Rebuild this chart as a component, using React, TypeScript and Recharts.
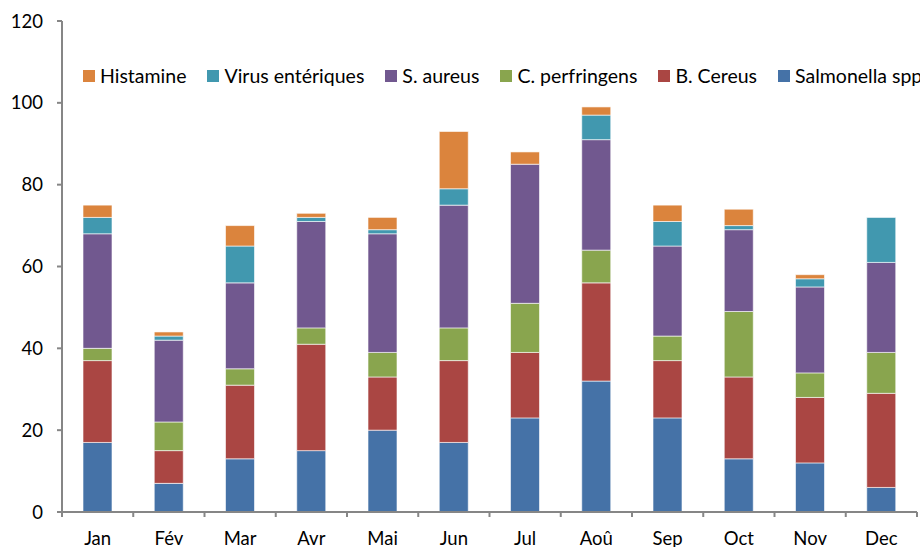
import { BarChart, Bar, XAxis, YAxis, Legend } from 'recharts'

const months = ['Jan', 'Fév', 'Mar', 'Avr', 'Mai', 'Jun', 'Jul', 'Aoû', 'Sep', 'Oct', 'Nov', 'Dec']

const salmonella = [17, 7, 13, 15, 20, 17, 23, 32, 23, 13, 12, 6]
const bCereus = [20, 8, 18, 26, 13, 20, 16, 24, 14, 20, 16, 23]
const cPerfringens = [3, 7, 4, 4, 6, 8, 12, 8, 6, 16, 6, 10]
const sAureus = [28, 20, 21, 26, 29, 30, 34, 27, 22, 20, 21, 22]
const virus = [4, 1, 9, 1, 1, 4, 0, 6, 6, 1, 2, 11]
const histamine = [3, 1, 5, 1, 3, 14, 3, 2, 4, 4, 1, 0]

const yTicks = [0, 20, 40, 60, 80, 100, 120]

const series = [
  { key: 'salmonella', name: 'Salmonella spp', color: '#4572A7', values: salmonella },
  { key: 'cereus', name: 'B. Cereus', color: '#AA4643', values: bCereus },
  { key: 'perfringens', name: 'C. perfringens', color: '#89A54E', values: cPerfringens },
  { key: 'aureus', name: 'S. aureus', color: '#71588F', values: sAureus },
  { key: 'virus', name: 'Virus entériques', color: '#4198AF', values: virus },
  { key: 'histamine', name: 'Histamine', color: '#DB843D', values: histamine },
]

const data = months.map((m, i) => {
  const row: Record<string, string | number> = { month: m }
  series.forEach(s => { row[s.key] = s.values[i] })
  return row
})

const W = 920
const H = 547
const LEFT = 62
const RIGHT = 3
const STEP = (W - LEFT - RIGHT) / months.length
const FONT = 'Lato, "Open Sans", sans-serif'
const AXIS = '#868686'

// month label plus the boundary tick marks between categories
function MonthTick(props: any) {
  const { x, y, payload, index } = props
  const left = x - STEP / 2
  return (
    <g>
      <line x1={left} y1={y} x2={left} y2={y + 5} stroke={AXIS} strokeWidth={2} />
      {index === months.length - 1 && (
        <line x1={x + STEP / 2} y1={y} x2={x + STEP / 2} y2={y + 5} stroke={AXIS} strokeWidth={2} />
      )}
      <text x={x} y={y + 33} textAnchor="middle" fill="#000" fontSize={18.5} fontFamily={FONT}>
        {payload.value}
      </text>
    </g>
  )
}

const legendItems = [...series].reverse()

function LegendContent() {
  return (
    <div style={{ display: 'flex', whiteSpace: 'nowrap', fontFamily: FONT, fontSize: 19.5, color: '#000', lineHeight: '22px' }}>
      {legendItems.map(s => (
        <div key={s.key} style={{ display: 'flex', alignItems: 'center', marginRight: 21 }}>
          <span style={{ width: 12, height: 12, background: s.color, display: 'inline-block', marginRight: 5 }} />
          <span>{s.name}</span>
        </div>
      ))}
    </div>
  )
}

export default function App() {
  return (
    <div style={{ position: 'absolute', left: 0, top: 0, width: W, height: H, overflow: 'hidden', background: '#fff' }}>
      <BarChart
        width={W}
        height={H}
        data={data}
        margin={{ top: 21, right: RIGHT, left: 0, bottom: 0 }}
        barSize={29}
      >
        <XAxis
          dataKey="month"
          height={35}
          axisLine={{ stroke: AXIS, strokeWidth: 2 }}
          tickLine={false}
          tickSize={0}
          tickMargin={0}
          tick={<MonthTick />}
          interval={0}
        />
        <YAxis
          width={LEFT}
          domain={[0, 120]}
          ticks={yTicks}
          axisLine={{ stroke: AXIS, strokeWidth: 2 }}
          tickLine={{ stroke: AXIS, strokeWidth: 2 }}
          tickSize={5}
          tickMargin={14}
          tick={{ fill: '#000', fontSize: 18.5, fontFamily: FONT }}
        />
        <Legend
          verticalAlign="middle"
          align="center"
          content={<LegendContent />}
          wrapperStyle={{ top: 65, left: 83, width: 'auto' }}
        />
        {series.map(s => (
          <Bar
            key={s.key}
            dataKey={s.key}
            name={s.name}
            stackId="a"
            fill={s.color}
            stroke="#ffffff"
            strokeWidth={0.6}
            isAnimationActive={false}
          />
        ))}
      </BarChart>
    </div>
  )
}
